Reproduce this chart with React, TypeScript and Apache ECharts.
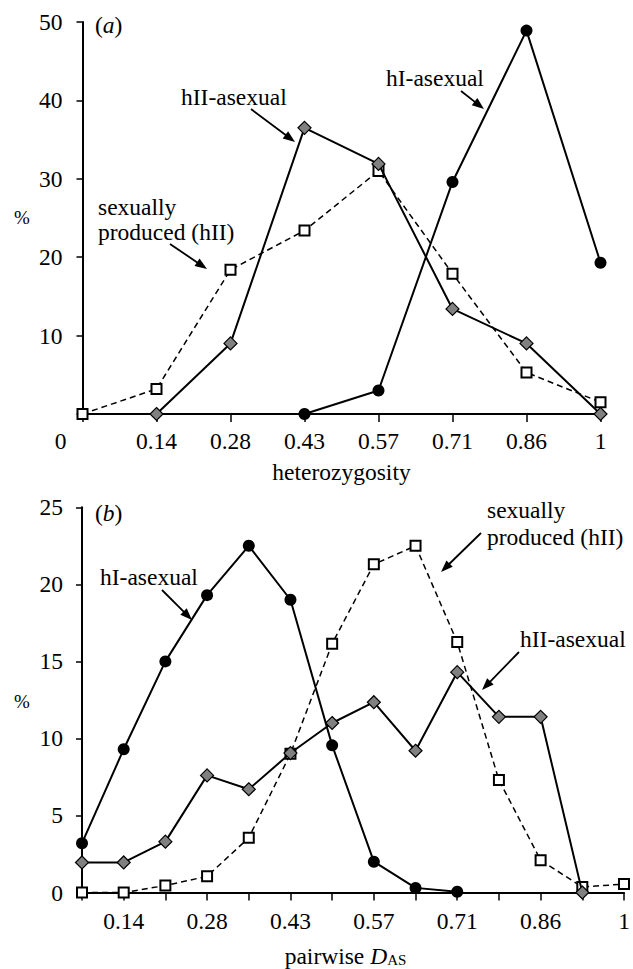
import React, { useEffect, useRef } from "react";
import * as echarts from "echarts";

// ---- Panel (a): heterozygosity ----
const topCategories = ["0", "0.14", "0.28", "0.43", "0.57", "0.71", "0.86", "1"];
const topSexual = [0, 3.2, 18.4, 23.4, 31.0, 17.9, 5.3, 1.5];
const topHII = [null, 0, 9.0, 36.5, 31.9, 13.4, 9.0, 0];
const topHI = [null, null, null, 0, 3.0, 29.6, 48.9, 19.3];

// ---- Panel (b): pairwise D_AS ----
const bottomCategories = [
  "0.07", "0.14", "0.21", "0.28", "0.36", "0.43", "0.5",
  "0.57", "0.64", "0.71", "0.79", "0.86", "0.93", "1",
];
const bottomSexual = [0, 0, 0.45, 1.05, 3.55, 9.0, 16.15, 21.3, 22.5, 16.25, 7.3, 2.1, 0.35, 0.55];
const bottomHII = [1.95, 1.95, 3.3, 7.6, 6.7, 9.05, 11.0, 12.35, 9.2, 14.3, 11.4, 11.4, 0, null];
const bottomHI = [3.2, 9.3, 15.0, 19.3, 22.5, 19.0, 9.55, 2.0, 0.3, 0.05, null, null, null, null];

const FONT = "'Liberation Serif', 'Times New Roman', serif";
const FS = 23.5;

function arrow(x1: number, y1: number, x2: number, y2: number) {
  const dx = x2 - x1;
  const dy = y2 - y1;
  const len = Math.hypot(dx, dy);
  const ux = dx / len;
  const uy = dy / len;
  const L = 12;
  const W = 4.5;
  const bx = x2 - ux * L;
  const by = y2 - uy * L;
  return [
    {
      type: "line",
      shape: { x1, y1, x2: bx + ux * 2, y2: by + uy * 2 },
      style: { stroke: "#000", lineWidth: 1.8 },
      silent: true,
    },
    {
      type: "polygon",
      shape: {
        points: [
          [x2, y2],
          [bx - uy * W, by + ux * W],
          [bx + uy * W, by - ux * W],
        ],
      },
      style: { fill: "#000" },
      silent: true,
    },
  ];
}

function label(text: string, x: number, y: number, extra: any = {}) {
  return {
    type: "text",
    x,
    y,
    silent: true,
    style: {
      text,
      fontFamily: FONT,
      fontSize: FS,
      fill: "#000",
      align: "left",
      verticalAlign: "middle",
      ...extra,
    },
  };
}

function seriesSet(gridIdx: number, sexual: any[], hII: any[], hI: any[]) {
  return [
    {
      type: "line",
      xAxisIndex: gridIdx,
      yAxisIndex: gridIdx,
      data: sexual,
      symbol: "rect",
      symbolSize: 10,
      showAllSymbol: true,
      lineStyle: { color: "#000", width: 1.5, type: [6, 4] },
      itemStyle: { color: "#fff", borderColor: "#000", borderWidth: 2 },
      emphasis: { disabled: true },
      silent: true,
      z: 2,
    },
    {
      type: "line",
      xAxisIndex: gridIdx,
      yAxisIndex: gridIdx,
      data: hII,
      symbol: "diamond",
      symbolSize: 13,
      showAllSymbol: true,
      lineStyle: { color: "#000", width: 2 },
      itemStyle: { color: "#808080", borderColor: "#000", borderWidth: 1.2 },
      emphasis: { disabled: true },
      silent: true,
      z: 3,
    },
    {
      type: "line",
      xAxisIndex: gridIdx,
      yAxisIndex: gridIdx,
      data: hI,
      symbol: "circle",
      symbolSize: 12,
      showAllSymbol: true,
      lineStyle: { color: "#000", width: 2 },
      itemStyle: { color: "#000", borderColor: "#000", borderWidth: 0 },
      emphasis: { disabled: true },
      silent: true,
      z: 4,
    },
  ];
}

export default function App() {
  const ref = useRef<HTMLDivElement>(null);

  useEffect(() => {
    if (!ref.current) return;
    const chart = echarts.init(ref.current, null, { renderer: "svg" });

    const axisLine = { show: true, onZero: false, lineStyle: { color: "#000", width: 2 } };
    const labelStyle = { color: "#000", fontFamily: FONT, fontSize: FS };

    const option: any = {
      animation: false,
      backgroundColor: "#fff",
      grid: [
        { left: 82.5, right: 32.5, top: 22, height: 392, containLabel: false },
        { left: 82, right: 9, top: 507.3, height: 385.2, containLabel: false },
      ],
      xAxis: [
        {
          type: "category",
          gridIndex: 0,
          data: topCategories,
          boundaryGap: false,
          axisLine,
          axisTick: { show: true, length: 8, inside: false, interval: 0, lineStyle: { color: "#000", width: 1.5 } },
          axisLabel: {
            ...labelStyle,
            interval: 0,
            margin: 15,
            formatter: (v: string) => (v === "0" ? "{z|0}" : v),
            rich: { z: { fontFamily: FONT, fontSize: FS, color: "#000", padding: [0, 44, 0, 0] } },
          },
          splitLine: { show: false },
          name: "heterozygosity",
          nameLocation: "middle",
          nameGap: 46,
          nameTextStyle: { ...labelStyle },
        },
        {
          type: "category",
          gridIndex: 1,
          data: bottomCategories,
          boundaryGap: false,
          axisLine,
          axisTick: { show: true, length: 8, inside: false, interval: 0, lineStyle: { color: "#000", width: 1.5 } },
          axisLabel: {
            ...labelStyle,
            margin: 16,
            interval: (i: number) => i % 2 === 1,
          },
          splitLine: { show: false },
          name: "{a|pairwise }{d|D}{s|AS}",
          nameLocation: "middle",
          nameGap: 51,
          nameTextStyle: {
            ...labelStyle,
            rich: {
              a: { fontFamily: FONT, fontSize: FS, color: "#000" },
              d: { fontFamily: FONT, fontSize: FS, color: "#000", fontStyle: "italic" },
              s: { fontFamily: FONT, fontSize: 15, color: "#000", verticalAlign: "bottom", padding: [0, 15, 0, 0] },
            },
          },
        },
      ],
      yAxis: [
        {
          type: "value",
          gridIndex: 0,
          min: 0,
          max: 50,
          interval: 10,
          axisLine,
          axisTick: { show: true, length: 6, lineStyle: { color: "#000", width: 1.5 } },
          axisLabel: {
            ...labelStyle,
            margin: 20,
            formatter: (v: number) => (v === 0 ? "" : String(v)),
          },
          splitLine: { show: false },
        },
        {
          type: "value",
          gridIndex: 1,
          min: 0,
          max: 25,
          interval: 5,
          axisLine,
          axisTick: { show: true, length: 6, lineStyle: { color: "#000", width: 1.5 } },
          axisLabel: { ...labelStyle, margin: 19 },
          splitLine: { show: false },
        },
      ],
      series: [
        ...seriesSet(0, topSexual, topHII, topHI),
        ...seriesSet(1, bottomSexual, bottomHII, bottomHI),
      ],
      graphic: [
        // panel (a)
        label("({i|a})", 95, 25, { rich: { i: { fontFamily: FONT, fontSize: FS, fontStyle: "italic", fill: "#000" } } }),
        label("%", 22, 217, { fontSize: 19, align: "center", fill: "#000" }),
        label("hI-asexual", 386, 78),
        label("hII-asexual", 181, 97),
        label("sexually\nproduced (hII)", 98, 219.5, { lineHeight: 25 }),
        ...arrow(461, 91, 484, 109),
        ...arrow(251, 109, 295, 142),
        ...arrow(170, 244, 207, 269),
        // panel (b)
        label("({i|b})", 95, 513, { rich: { i: { fontFamily: FONT, fontSize: FS, fontStyle: "italic", fill: "#000" } } }),
        label("%", 22, 701, { fontSize: 19, align: "center", fill: "#000" }),
        label("hI-asexual", 100, 577),
        label("sexually\nproduced (hII)", 487, 523.5, { lineHeight: 27 }),
        label("hII-asexual", 520, 639),
        ...arrow(162, 590, 192, 620),
        ...arrow(481, 533, 441, 572),
        ...arrow(519, 652, 482, 690),
      ],
    };

    chart.setOption(option);
    return () => chart.dispose();
  }, []);

  return (
    <div
      ref={ref}
      style={{ position: "absolute", left: 0, top: 0, width: 633, height: 969, background: "#fff" }}
    />
  );
}
